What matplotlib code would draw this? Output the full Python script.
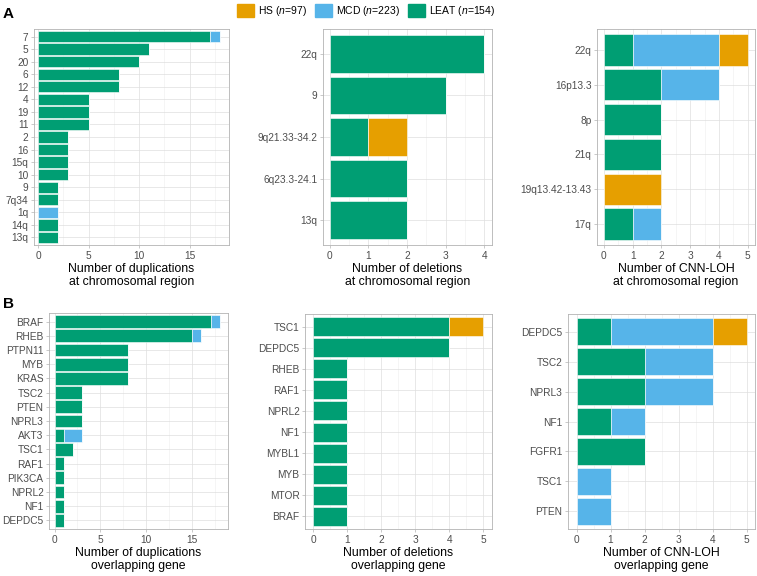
import numpy as np
import matplotlib
matplotlib.use("Agg")
import matplotlib.pyplot as plt
from matplotlib.patches import Patch
from matplotlib.ticker import MultipleLocator

plt.rcParams["font.family"] = ["Liberation Sans", "DejaVu Sans"]
plt.rcParams["mathtext.fontset"] = "custom"
plt.rcParams["mathtext.rm"] = "Liberation Sans"
plt.rcParams["mathtext.it"] = "Liberation Sans:italic"

LEAT_C = "#009E73"
MCD_C = "#56B4E9"
HS_C = "#E69F00"

# A: chromosomal regions
dup_reg = ["7", "5", "20", "6", "12", "4", "19", "11", "2", "16", "15q", "10", "9", "7q34", "1q", "14q", "13q"]
dup_reg_leat = [17, 11, 10, 8, 8, 5, 5, 5, 3, 3, 3, 3, 2, 2, 0, 2, 2]
dup_reg_mcd = [1, 0, 0, 0, 0, 0, 0, 0, 0, 0, 0, 0, 0, 0, 2, 0, 0]
dup_reg_hs = [0] * 17

del_reg = ["22q", "9", "9q21.33-34.2", "6q23.3-24.1", "13q"]
del_reg_leat = [4, 3, 1, 2, 2]
del_reg_mcd = [0, 0, 0, 0, 0]
del_reg_hs = [0, 0, 1, 0, 0]

loh_reg = ["22q", "16p13.3", "8p", "21q", "19q13.42-13.43", "17q"]
loh_reg_leat = [1, 2, 2, 2, 0, 1]
loh_reg_mcd = [3, 2, 0, 0, 0, 1]
loh_reg_hs = [1, 0, 0, 0, 2, 0]

# B: genes
dup_gene = ["BRAF", "RHEB", "PTPN11", "MYB", "KRAS", "TSC2", "PTEN", "NPRL3", "AKT3", "TSC1",
            "RAF1", "PIK3CA", "NPRL2", "NF1", "DEPDC5"]
dup_gene_leat = [17, 15, 8, 8, 8, 3, 3, 3, 1, 2, 1, 1, 1, 1, 1]
dup_gene_mcd = [1, 1, 0, 0, 0, 0, 0, 0, 2, 0, 0, 0, 0, 0, 0]
dup_gene_hs = [0] * 15

del_gene = ["TSC1", "DEPDC5", "RHEB", "RAF1", "NPRL2", "NF1", "MYBL1", "MYB", "MTOR", "BRAF"]
del_gene_leat = [4, 4, 1, 1, 1, 1, 1, 1, 1, 1]
del_gene_mcd = [0] * 10
del_gene_hs = [1, 0, 0, 0, 0, 0, 0, 0, 0, 0]

loh_gene = ["DEPDC5", "TSC2", "NPRL3", "NF1", "FGFR1", "TSC1", "PTEN"]
loh_gene_leat = [1, 2, 2, 1, 2, 0, 0]
loh_gene_mcd = [3, 2, 2, 1, 0, 1, 1]
loh_gene_hs = [1, 0, 0, 0, 0, 0, 0]

W, H = 757, 576
fig = plt.figure(figsize=(W / 100, H / 100), dpi=100)


def panel(box, cats, leat, mcd, hs, xlim, major, minor, xlabel):
    l, r, t, b = box
    ax = fig.add_axes([l / W, 1 - b / H, (r - l) / W, (b - t) / H])
    y = np.arange(len(cats))
    leat = np.array(leat)
    mcd = np.array(mcd)
    hs = np.array(hs)
    kw = dict(height=0.9, edgecolor="white", linewidth=0.4, zorder=3)
    ax.barh(y, leat, color=LEAT_C, **kw)
    ax.barh(y, mcd, left=leat, color=MCD_C, **kw)
    ax.barh(y, hs, left=leat + mcd, color=HS_C, **kw)
    ax.set_yticks(y)
    ax.set_yticklabels(cats)
    ax.set_ylim(len(cats) - 0.4, -0.6)
    ax.set_xlim(*xlim)
    ax.xaxis.set_major_locator(MultipleLocator(major))
    ax.xaxis.set_minor_locator(MultipleLocator(minor))
    ax.grid(which="major", color="#DEDEDE", linewidth=0.5, zorder=0)
    ax.grid(which="minor", axis="x", color="#EEEEEE", linewidth=0.4, zorder=0)
    ax.set_axisbelow(True)
    for s in ax.spines.values():
        s.set_color("#B3B3B3")
        s.set_linewidth(0.6)
    ax.tick_params(which="major", length=2.5, width=0.5, color="#B3B3B3",
                   labelcolor="#4D4D4D", labelsize=7.3, pad=1.5)
    ax.tick_params(which="minor", length=0)
    ax.set_xlabel(xlabel, fontsize=8.8, color="black", labelpad=2, linespacing=1.1)
    return ax


panel((34, 229, 29, 245), dup_reg, dup_reg_leat, dup_reg_mcd, dup_reg_hs,
      (-0.4, 18.9), 5, 2.5, "Number of duplications\nat chromosomal region")
panel((323, 492, 29, 245), del_reg, del_reg_leat, del_reg_mcd, del_reg_hs,
      (-0.17, 4.2), 1, 0.5, "Number of deletions\nat chromosomal region")
panel((597, 755, 29, 245), loh_reg, loh_reg_leat, loh_reg_mcd, loh_reg_hs,
      (-0.24, 5.25), 1, 0.5, "Number of CNN-LOH\nat chromosomal region")
panel((49, 228, 313, 529), dup_gene, dup_gene_leat, dup_gene_mcd, dup_gene_hs,
      (-0.6, 18.9), 5, 2.5, "Number of duplications\noverlapping gene")
panel((305, 492, 314, 529), del_gene, del_gene_leat, del_gene_mcd, del_gene_hs,
      (-0.235, 5.25), 1, 0.5, "Number of deletions\noverlapping gene")
panel((568, 755, 314, 529), loh_gene, loh_gene_leat, loh_gene_mcd, loh_gene_hs,
      (-0.25, 5.25), 1, 0.5, "Number of CNN-LOH\noverlapping gene")

handles = [Patch(color=HS_C), Patch(color=MCD_C), Patch(color=LEAT_C)]
labels = [r"HS ($\mathit{n}$=97)", r"MCD ($\mathit{n}$=223)", r"LEAT ($\mathit{n}$=154)"]
fig.legend(handles, labels, loc="center", bbox_to_anchor=(366 / W, 1 - 11 / H), ncol=3,
           frameon=False, handlelength=1.6, handleheight=1.6, handletextpad=0.4,
           columnspacing=0.8, fontsize=7.5, borderaxespad=0, borderpad=0)

fig.text(3 / W, 1 - 14 / H, "A", fontsize=11, fontweight="bold", va="center", ha="left")
fig.text(3 / W, 1 - 304 / H, "B", fontsize=11, fontweight="bold", va="center", ha="left")

fig.savefig("out.png", dpi=100)
